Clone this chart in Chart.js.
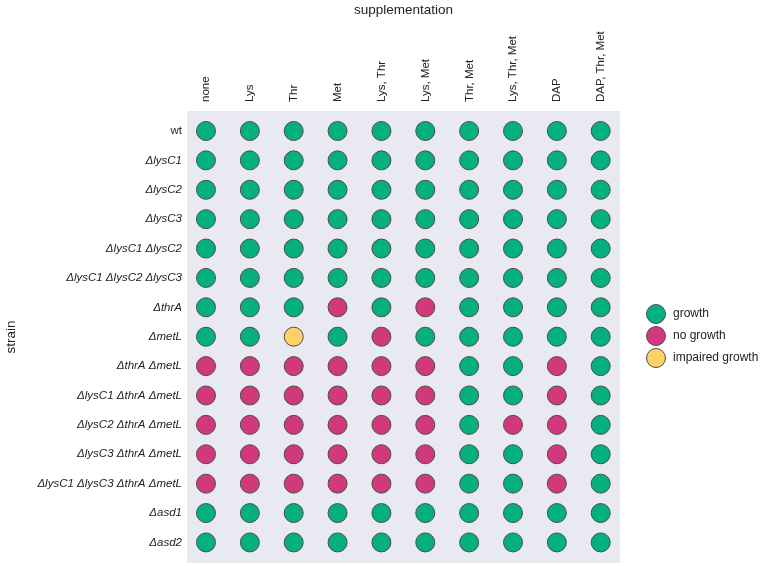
<!DOCTYPE html>
<html>
<head>
<meta charset="utf-8">
<script src="https://cdn.jsdelivr.net/npm/chart.js@4.4.1/dist/chart.umd.min.js"></script>
<style>
  html, body { margin: 0; padding: 0; background: #ffffff; }
  #wrap { width: 762px; height: 566px; position: relative; }
</style>
</head>
<body>
<div id="wrap"><canvas id="c"></canvas></div>
<script>
// ---- data ----
const supplements = ["none", "Lys", "Thr", "Met", "Lys, Thr", "Lys, Met", "Thr, Met", "Lys, Thr, Met", "DAP", "DAP, Thr, Met"];
const strains = [
  "wt",
  "\u0394lysC1",
  "\u0394lysC2",
  "\u0394lysC3",
  "\u0394lysC1 \u0394lysC2",
  "\u0394lysC1 \u0394lysC2 \u0394lysC3",
  "\u0394thrA",
  "\u0394metL",
  "\u0394thrA \u0394metL",
  "\u0394lysC1 \u0394thrA \u0394metL",
  "\u0394lysC2 \u0394thrA \u0394metL",
  "\u0394lysC3 \u0394thrA \u0394metL",
  "\u0394lysC1 \u0394lysC3 \u0394thrA \u0394metL",
  "\u0394asd1",
  "\u0394asd2"
];
// G = growth, N = no growth, I = impaired growth (one string per strain, one letter per supplement)
const growthGrid = [
  "GGGGGGGGGG",
  "GGGGGGGGGG",
  "GGGGGGGGGG",
  "GGGGGGGGGG",
  "GGGGGGGGGG",
  "GGGGGGGGGG",
  "GGGNGNGGGG",
  "GGIGNGGGGG",
  "NNNNNNGGNG",
  "NNNNNNGGNG",
  "NNNNNNGNNG",
  "NNNNNNGGNG",
  "NNNNNNGGNG",
  "GGGGGGGGGG",
  "GGGGGGGGGG"
];
const categoryCodes = ["G", "N", "I"];
const categoryNames = ["growth", "no growth", "impaired growth"];
const categoryColors = ["#05b07f", "#d2387c", "#ffd166"];

// ---- build datasets ----
const datasets = categoryCodes.map((code, k) => {
  const pts = [];
  growthGrid.forEach((row, r) => {
    row.split("").forEach((c, s) => { if (c === code) pts.push({ x: s, y: r }); });
  });
  return {
    label: categoryNames[k],
    data: pts,
    backgroundColor: categoryColors[k],
    borderColor: "#4d4d4d",
    borderWidth: 1,
    pointRadius: 9.5,
    pointHoverRadius: 9.5
  };
});

const FONT = "'Liberation Sans', Arial, Helvetica, sans-serif";
Chart.defaults.font.family = FONT;
Chart.defaults.color = "#222222";

const panelBg = {
  id: "panelBg",
  beforeDraw(chart) {
    const a = chart.chartArea, ctx = chart.ctx;
    ctx.save();
    ctx.fillStyle = "#e9e9f1";
    ctx.fillRect(a.left, a.top, a.right - a.left, a.bottom - a.top);
    ctx.restore();
  }
};

const customLegend = {
  id: "customLegend",
  afterDraw(chart) {
    const ctx = chart.ctx;
    const x0 = 656, y0 = 314, gap = 22;
    ctx.save();
    chart.data.datasets.forEach((ds, i) => {
      const y = y0 + i * gap;
      ctx.beginPath();
      ctx.arc(x0, y, 9.5, 0, Math.PI * 2);
      ctx.fillStyle = ds.backgroundColor;
      ctx.fill();
      ctx.lineWidth = 1;
      ctx.strokeStyle = ds.borderColor;
      ctx.stroke();
      ctx.fillStyle = "#222222";
      ctx.font = "12px " + FONT;
      ctx.textAlign = "left";
      ctx.textBaseline = "middle";
      ctx.fillText(ds.label, 673, y);
    });
    ctx.restore();
  }
};

new Chart(document.getElementById("c"), {
  type: "scatter",
  data: { datasets },
  options: {
    responsive: true,
    maintainAspectRatio: false,
    animation: false,
    layout: { autoPadding: false, padding: { left: 0, top: 0, right: 142, bottom: 3 } },
    plugins: { legend: { display: false }, tooltip: { enabled: false } },
    scales: {
      x: {
        type: "linear",
        position: "top",
        min: -0.433,
        max: 9.44,
        afterBuildTicks: (scale) => { scale.ticks = supplements.map((_, i) => ({ value: i })); },
        afterFit: (scale) => { scale.height = 111; scale.paddingLeft = 0; scale.paddingRight = 0; },
        grid: { display: false, drawTicks: false },
        border: { display: false },
        ticks: {
          autoSkip: false,
          minRotation: 90,
          maxRotation: 90,
          padding: 9,
          labelOffset: 14,
          font: { size: 11.5 },
          color: "#222222",
          callback: (v) => supplements[v]
        },
        title: {
          display: true,
          text: "supplementation",
          font: { size: 13.5 },
          color: "#222222",
          padding: { top: 2, bottom: 0 }
        }
      },
      y: {
        type: "linear",
        position: "left",
        reverse: true,
        min: -0.68,
        max: 14.70,
        afterBuildTicks: (scale) => { scale.ticks = strains.map((_, i) => ({ value: i })); },
        afterFit: (scale) => { scale.width = 187; scale.paddingTop = 0; scale.paddingBottom = 0; },
        grid: { display: false, drawTicks: false },
        border: { display: false },
        ticks: {
          autoSkip: false,
          padding: 5,
          color: "#222222",
          font: (ctx) => ({ size: 11.5, style: (ctx.tick && ctx.tick.value === 0) ? "normal" : "italic" }),
          callback: (v) => strains[v]
        },
        title: {
          display: true,
          text: "strain",
          font: { size: 13.5 },
          color: "#222222",
          padding: { top: 3, bottom: 0 }
        }
      }
    }
  },
  plugins: [panelBg, customLegend]
});
</script>
</body>
</html>
